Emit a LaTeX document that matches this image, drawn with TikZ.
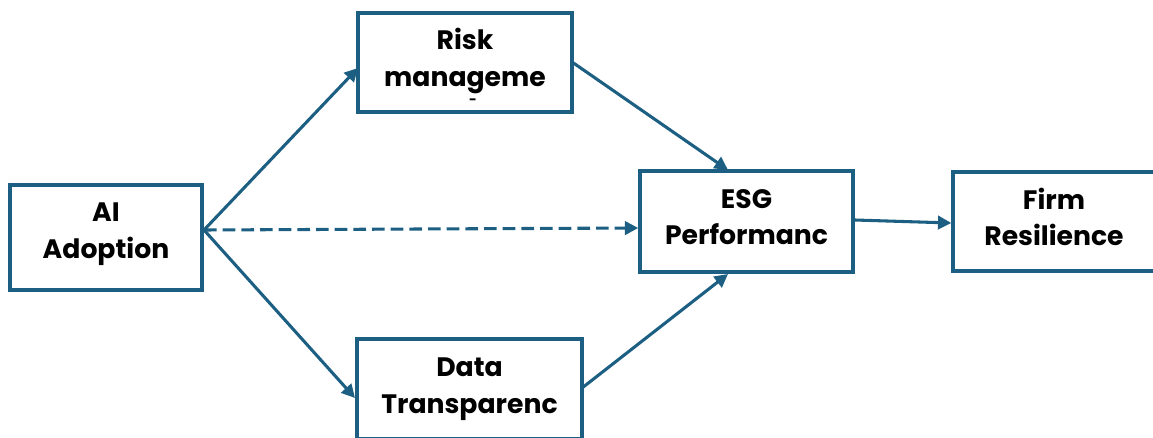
\documentclass[tikz,border=0pt]{standalone}
\usepackage{fontspec}
\setmainfont{Poppins}
\usetikzlibrary{arrows.meta}
\definecolor{edge}{RGB}{28,95,130}
\tikzset{
  box/.style={draw=edge, line width=2.6pt, fill=white, rectangle, inner sep=0pt},
  lbl/.style={align=center, inner sep=0pt, font=\fontsize{20}{27.5}\selectfont\bfseries},
  conn/.style={draw=edge, line width=2.3pt, -{Triangle[length=10pt,width=10pt]}},
  dashconn/.style={conn, dash pattern=on 9.5pt off 4.5pt},
}
\begin{document}
\begin{tikzpicture}[x=0.75pt,y=-0.75pt]
\useasboundingbox (0,0) rectangle (1153,438);
\clip (0,0) rectangle (1153,438);
\node[box, minimum width=144pt, minimum height=78.75pt] (ai) at (106,237.5) {};
\node[lbl] (aitext) at (106,234) {AI\\Adoption};
\node[box, minimum width=160.5pt, minimum height=74.25pt] (risk) at (465,62.5) {};
\node[lbl] (risktext) at (465,61) {Risk\\manageme};
\node (riskdash) at (473,102) [font=\fontsize{10}{12}\selectfont\bfseries, inner sep=0pt] {-};
\node[box, minimum width=168.75pt, minimum height=75pt] (data) at (469.5,389) {};
\node[lbl] (datatext) at (469.5,389) {Data\\Transparenc};
\node[box, minimum width=159.75pt, minimum height=75.75pt] (esg) at (746.5,221.5) {};
\node[lbl] (esgtext) at (746.5,217) {ESG\\Performanc};
\node[box, minimum width=153pt, minimum height=74.25pt] (firm) at (1055,221.5) {};
\node[lbl] (firmtext) at (1054,217) {Firm\\Resilience};
\coordinate (aiout) at (204,230);
\draw[conn] (aiout) -- (358,68);
\draw[conn] (aiout) -- (355,398);
\draw[dashconn] (aiout) -- (esg.west |- 0,228);
\draw[conn] (572,62) -- (728,170);
\draw[conn] (582,388) -- (728,274);
\draw[conn] (esg.east |- 0,220) -- (firm.west |- 0,223);
\end{tikzpicture}
\end{document}
